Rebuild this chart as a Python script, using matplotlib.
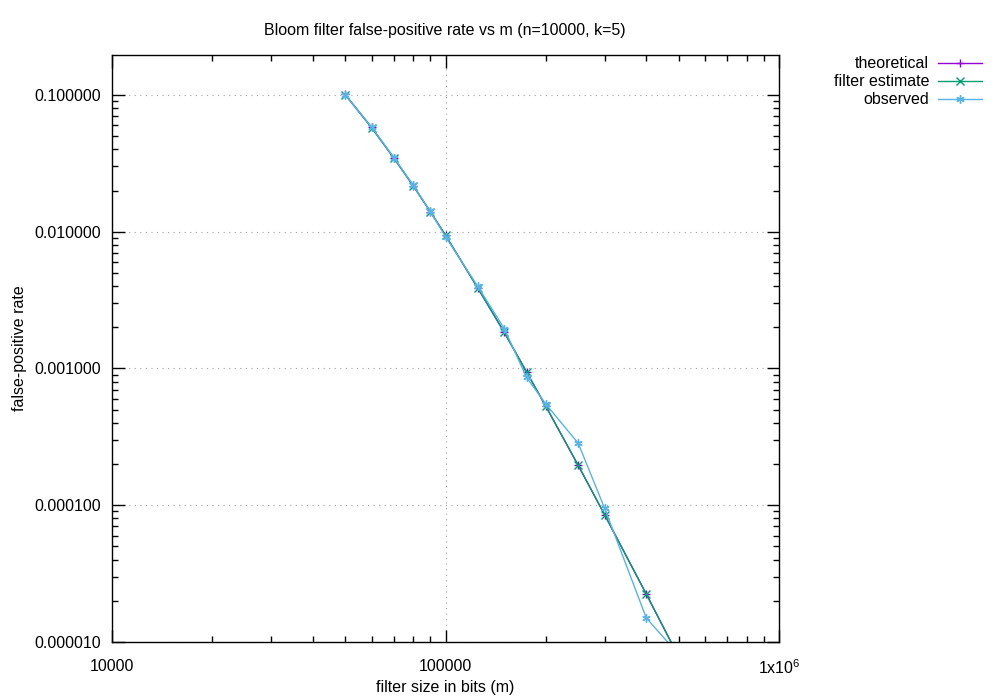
import matplotlib
matplotlib.use('Agg')
import matplotlib.pyplot as plt
from matplotlib.lines import Line2D
from matplotlib.ticker import LogLocator, FixedLocator, FuncFormatter, NullFormatter

plt.rcParams['font.family'] = ['Liberation Sans', 'DejaVu Sans']
plt.rcParams['mathtext.fontset'] = 'custom'
plt.rcParams['mathtext.rm'] = 'Liberation Sans'

# filter size m (bits)
m_bits = [50000, 60000, 70000, 80000, 90000, 100000, 125000, 150000,
          175000, 200000, 250000, 300000, 400000, 500000]
theoretical = [0.1009, 0.0579, 0.0346, 0.0217, 0.01405, 0.00943, 0.00387,
               0.00184, 0.000943, 0.000528, 0.0001955, 0.0000851,
               0.0000224, 0.0000078]
filter_estimate = [0.1008, 0.0578, 0.0346, 0.0217, 0.01404, 0.00942, 0.00387,
                   0.00184, 0.000944, 0.000528, 0.0001958, 0.0000852,
                   0.0000224, 0.0000078]
observed = [0.1002, 0.0584, 0.0349, 0.0219, 0.0141, 0.0092, 0.00398,
            0.00196, 0.00086, 0.000548, 0.000284, 0.0000950,
            0.0000150, 0.0000081]

labels = ['theoretical', 'filter estimate', 'observed']
colors = ['#9400d3', '#009e73', '#56b4e9']
markers = ['+', 'x', (6, 2, 0)]
FS = 11.5

fig = plt.figure(figsize=(10, 7), dpi=100)
ax = fig.add_axes([0.112, 0.0829, 0.667, 0.8385])

series = [theoretical, filter_estimate, observed]
for ys, c, mk in zip(series, colors, markers):
    ax.plot(m_bits, ys, color=c, lw=1, marker=mk, ms=6, mew=1)

ax.set_xscale('log')
ax.set_yscale('log')
ax.set_xlim(1e4, 1e6)
ax.set_ylim(1e-5, 0.196)

ax.xaxis.set_major_locator(FixedLocator([1e4, 1e5, 1e6]))
ax.xaxis.set_minor_locator(LogLocator(base=10, subs=range(2, 10)))
ax.xaxis.set_minor_formatter(NullFormatter())

def xfmt(v, pos):
    if v >= 1e6:
        return r'1x10$^{6}$'
    return '%d' % round(v)

ax.xaxis.set_major_formatter(FuncFormatter(xfmt))
ax.yaxis.set_major_locator(FixedLocator([1e-5, 1e-4, 1e-3, 1e-2, 1e-1]))
ax.yaxis.set_minor_locator(LogLocator(base=10, subs=range(2, 10)))
ax.yaxis.set_minor_formatter(NullFormatter())
ax.yaxis.set_major_formatter(FuncFormatter(lambda v, p: '%f' % v))

ax.tick_params(which='both', direction='in', top=True, right=True,
               labelsize=FS, width=1, color='black')
ax.tick_params(which='major', length=9)
ax.tick_params(which='minor', length=4.5)
ax.tick_params(axis='x', which='major', pad=12)
ax.tick_params(axis='y', which='major', pad=8)

ax.grid(True, which='major', color='#a0a0a0', linestyle=(0, (1, 4)), lw=0.8)
for s in ax.spines.values():
    s.set_linewidth(1)

ax.set_xlabel('filter size in bits (m)', fontsize=FS, labelpad=2)
ax.set_ylabel('false-positive rate', fontsize=FS, labelpad=5.5)
fig.text(0.445, 0.957, 'Bloom filter false-positive rate vs m (n=10000, k=5)',
         ha='center', va='center', fontsize=FS)

# key, gnuplot style (text right aligned, sample to the right)
for i, (lab, c, mk) in enumerate(zip(labels, colors, markers)):
    y = 1 - (63 + 18 * i) / 700
    fig.text(0.929, y, lab, ha='right', va='center', fontsize=FS)
    fig.add_artist(Line2D([0.938, 0.982], [y, y], color=c, lw=1,
                          transform=fig.transFigure))
    fig.add_artist(Line2D([0.960], [y], color=c, marker=mk, ms=6, mew=1,
                          transform=fig.transFigure))

fig.savefig('out.png', dpi=100)
